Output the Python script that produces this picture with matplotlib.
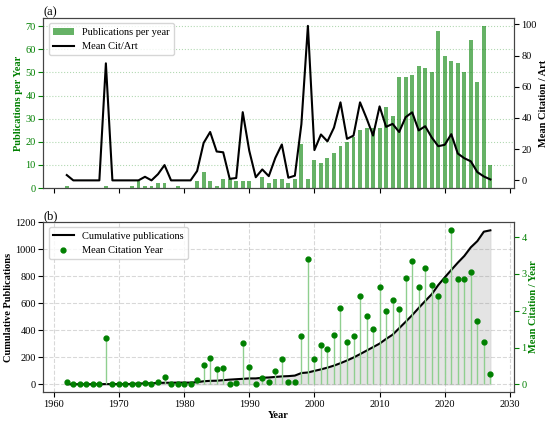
import numpy as np
import matplotlib.pyplot as plt

plt.rcParams['font.family'] = ['Liberation Serif', 'DejaVu Serif']
plt.rcParams['font.size'] = 7.5
plt.rcParams['xtick.major.pad'] = 2
plt.rcParams['ytick.major.pad'] = 2
plt.rcParams['axes.labelpad'] = 2

# data
years = np.arange(1962, 2028)
pubs_per_year = [1, 0, 0, 0, 0, 0, 1, 0, 0, 0, 1, 3, 1, 1, 2, 2, 0, 1, 0, 0,
                 3, 7, 3, 1, 4, 4, 3, 3, 3, 0, 5, 2, 4, 4, 2, 4, 19, 4,
                 12, 11, 13, 15, 18, 20, 22, 25, 26, 26, 26, 35, 31, 48, 48, 49,
                 53, 52, 50, 68, 57, 55, 54, 50, 64, 46, 70, 10]
mean_cit_art = [3.4, 0, 0, 0, 0, 0, 75, 0, 0, 0, 0, 0, 2.3, 0, 4, 9.8, 0, 0, 0, 0,
                6, 24, 31, 18.5, 18, 1, 1.5, 43.7, 19, 2, 7, 2.7, 14.4, 23, 1.7, 3, 36, 99,
                19.4, 29.4, 25, 33.8, 50, 26.6, 28.7, 50, 39.8, 28.7, 47.4, 34.3, 36.2, 31,
                40.5, 43.6, 32, 34.7, 27.5, 21.9, 22.8, 29.6, 17.2, 14.2, 12.2, 5.3, 2.5, 0.6]
mean_cit_year = [0.05, 0, 0, 0, 0, 0, 1.25, 0, 0, 0, 0, 0, 0.04, 0, 0.07, 0.19, 0, 0, 0, 0,
                 0.12, 0.52, 0.71, 0.42, 0.44, 0, 0.03, 1.12, 0.46, 0, 0.16, 0.05, 0.36, 0.69,
                 0.05, 0.07, 1.3, 3.41, 0.68, 1.07, 0.95, 1.35, 2.07, 1.16, 1.31, 2.39, 1.85,
                 1.5, 2.64, 2.0, 2.29, 2.06, 2.89, 3.35, 2.65, 3.16, 2.69, 2.39, 2.83, 4.2,
                 2.86, 2.86, 3.04, 1.71, 1.14, 0.29]

cumulative = np.cumsum(pubs_per_year)

fig, (ax1, ax3) = plt.subplots(2, 1, figsize=(5.5, 4.22), dpi=100, sharex=True)
fig.subplots_adjust(left=0.079, right=0.934, top=0.957, bottom=0.071, hspace=0.2)

# (a) publications per year + mean citations per article
bars = ax1.bar(years, pubs_per_year, width=0.6, color='green', alpha=0.6,
               label='Publications per year')
ax1.set_ylabel('Publications per Year', color='green', fontweight='bold')
ax1.tick_params(axis='y', colors='green')
ax1.grid(axis='y', color='green', linestyle=':', alpha=0.3)
ax1.set_yticks(range(0, 71, 10))
ax1.set_title('(a)', loc='left', fontsize=9, pad=2)

ax2 = ax1.twinx()
line, = ax2.plot(years, mean_cit_art, color='black', lw=1.5, label='Mean Cit/Art')
ax2.set_ylabel('Mean Citation / Art', fontweight='bold')
ax2.set_yticks(range(0, 101, 20))
ax1.legend([bars, line], ['Publications per year', 'Mean Cit/Art'], loc='upper left')

# (b) cumulative publications + mean citations per year
ax3.fill_between(years, cumulative, color='lightgray', alpha=0.6)
cum_line, = ax3.plot(years, cumulative, color='black', lw=1.5,
                     label='Cumulative publications')
ax3.set_ylabel('Cumulative Publications', fontweight='bold')
ax3.set_xlabel('Year', fontweight='bold')
ax3.grid(color='gray', linestyle='--', alpha=0.3)
ax3.set_title('(b)', loc='left', fontsize=9, pad=2)
ax3.set_ylim(-57, 1203)
ax3.set_yticks(range(0, 1201, 200))

ax4 = ax3.twinx()
markers, stems, base = ax4.stem(years, mean_cit_year, basefmt=' ')
plt.setp(stems, color='#8fcf8f', linewidth=1)
plt.setp(markers, color='green', markersize=3.5)
markers.set_label('Mean Citation Year')
ax4.set_ylabel('Mean Citation / Year', color='green', fontweight='bold')
ax4.tick_params(axis='y', colors='green')
ax4.set_ylim(-0.21, 4.41)
ax4.set_yticks(range(0, 5))
ax3.legend([cum_line, markers], ['Cumulative publications', 'Mean Citation Year'],
           loc='upper left')

ax3.set_xticks(range(1960, 2031, 10))

for ax in (ax1, ax2, ax3, ax4):
    for s in ax.spines.values():
        s.set_color('#444444')

fig.savefig('out.png')
